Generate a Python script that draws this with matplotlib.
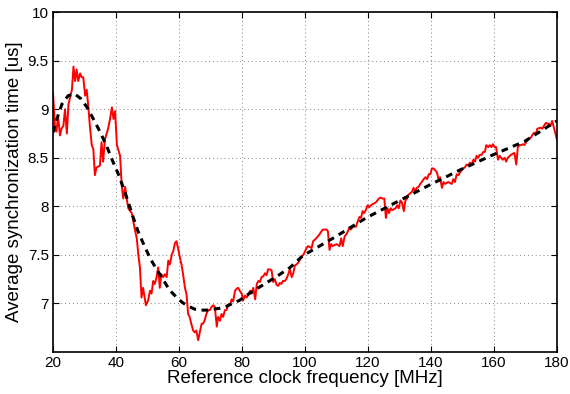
import matplotlib
matplotlib.use("Agg")
import matplotlib.pyplot as plt

# measured curve (red)
freq = [20.0, 20.7, 21.1, 21.6, 22.2, 22.7, 23.3, 23.8, 24.4, 24.9, 25.4, 26.0, 26.5,
        27.0, 27.5, 28.0, 28.6, 29.1, 29.6, 30.2, 30.7, 31.2, 31.7, 32.3, 32.8, 33.3, 33.8, 34.9,
        35.4, 35.9, 36.5, 37.5, 38.1, 38.7, 39.2, 39.7, 40.3, 41.3, 41.8, 42.3, 42.9, 43.4, 43.9,
        45.0, 46.0, 46.6, 47.1, 47.6, 48.1, 48.6, 49.5, 50.2, 50.8, 51.3, 51.8, 52.3, 52.9, 53.4,
        53.9, 54.4, 55.0, 55.5, 56.1, 56.6, 57.1, 57.7, 58.2, 58.7, 59.2, 59.7, 60.3, 60.8, 61.3,
        61.9, 62.4, 62.9, 63.4, 63.9, 64.5, 65.0, 65.5, 66.1, 66.6, 67.2, 67.6, 68.1, 68.7, 69.2,
        69.8, 70.3, 70.9, 71.4, 72.0, 72.4, 73.0, 73.5, 74.0, 74.6, 75.1, 75.7, 76.2, 76.7, 77.2,
        77.8, 78.3, 78.8, 79.3, 79.9, 80.4, 80.9, 81.5, 82.1, 82.6, 83.1, 83.6, 84.2, 84.7, 85.2,
        85.7, 86.2, 86.8, 87.3, 87.8, 88.3, 88.9, 89.4, 89.9, 90.4, 91.0, 91.5, 92.0, 92.5, 93.0,
        93.6, 94.1, 94.7, 95.2, 95.8, 96.3, 96.8, 97.3, 97.9, 98.4, 98.9, 99.5, 100.5, 101.0, 102.1,
        102.6, 103.6, 104.6, 105.2, 105.7, 106.9, 107.3, 107.8, 108.3, 108.8, 110.0, 111.0, 111.5, 112.0, 112.6,
        113.1, 113.6, 114.1, 114.6, 115.2, 116.2, 116.7, 117.3, 117.8, 118.3, 118.8, 119.3, 119.9, 120.4, 120.9,
        121.4, 122.5, 123.5, 124.0, 124.5, 125.2, 125.7, 126.2, 126.7, 127.2, 127.7, 128.8, 129.3, 129.8, 130.3,
        130.8, 131.4, 131.9, 132.4, 132.9, 134.0, 134.5, 135.0, 135.5, 136.1, 136.6, 137.1, 137.7, 138.3, 138.8,
        139.3, 139.8, 140.3, 140.8, 141.4, 141.9, 142.4, 142.9, 143.5, 144.0, 144.5, 145.5, 146.6, 147.1, 147.6,
        148.2, 148.7, 149.7, 150.2, 150.8, 151.3, 151.8, 152.4, 152.9, 153.5, 154.0, 154.5, 155.0, 155.5, 156.1,
        156.6, 157.1, 157.6, 158.2, 158.7, 159.2, 159.7, 160.2, 160.7, 161.3, 161.8, 162.3, 162.8, 163.4, 163.9,
        164.4, 165.4, 166.5, 167.1, 167.6, 168.1, 168.6, 169.2, 169.7, 170.2, 170.7, 171.3, 171.8, 172.3, 172.8,
        173.3, 173.8, 174.9, 175.4, 175.9, 176.5, 177.0, 177.5, 178.0, 178.5, 180.0]
sync_time = [9.17, 8.78, 8.77, 8.93, 8.73, 8.80, 8.83, 9.00, 8.75, 9.05, 9.12, 9.20, 9.44,
             9.29, 9.41, 9.29, 9.37, 9.33, 9.33, 9.14, 9.20, 9.03, 8.83, 8.63, 8.59, 8.32, 8.40, 8.42,
             8.66, 8.46, 8.69, 8.80, 8.90, 9.02, 8.90, 8.98, 8.63, 8.52, 8.22, 8.08, 8.20, 8.08, 7.98,
             7.93, 7.76, 7.67, 7.50, 7.37, 7.06, 7.16, 6.98, 7.03, 7.13, 7.10, 7.23, 7.20, 7.27, 7.37,
             7.16, 7.30, 7.27, 7.30, 7.27, 7.44, 7.40, 7.50, 7.54, 7.62, 7.64, 7.57, 7.47, 7.40, 7.30,
             7.16, 7.09, 6.89, 6.86, 6.79, 6.72, 6.70, 6.72, 6.62, 6.70, 6.79, 6.79, 6.82, 6.89, 6.93,
             6.93, 6.96, 6.98, 6.96, 6.76, 6.86, 6.82, 6.89, 6.86, 6.93, 6.93, 6.99, 6.98, 7.04, 7.02,
             7.13, 7.15, 7.16, 7.13, 7.10, 7.03, 7.08, 7.06, 7.10, 7.13, 7.10, 7.16, 7.04, 7.20, 7.23,
             7.22, 7.27, 7.28, 7.31, 7.29, 7.35, 7.35, 7.34, 7.22, 7.25, 7.19, 7.18, 7.21, 7.20, 7.23,
             7.23, 7.25, 7.30, 7.35, 7.27, 7.31, 7.39, 7.40, 7.42, 7.45, 7.48, 7.50, 7.57, 7.59, 7.57,
             7.64, 7.67, 7.71, 7.74, 7.76, 7.76, 7.74, 7.55, 7.61, 7.59, 7.61, 7.59, 7.67, 7.59, 7.69,
             7.71, 7.74, 7.78, 7.76, 7.79, 7.79, 7.84, 7.89, 7.88, 7.95, 7.93, 7.96, 8.01, 7.99, 8.01,
             8.02, 8.04, 8.08, 8.09, 8.08, 8.08, 7.88, 7.98, 7.93, 7.98, 7.96, 7.98, 8.01, 7.98, 8.06,
             8.04, 7.95, 8.06, 8.08, 8.12, 8.15, 8.19, 8.15, 8.19, 8.20, 8.23, 8.25, 8.28, 8.30, 8.28,
             8.33, 8.33, 8.39, 8.39, 8.37, 8.35, 8.28, 8.30, 8.19, 8.25, 8.23, 8.25, 8.23, 8.28, 8.25,
             8.33, 8.32, 8.37, 8.39, 8.40, 8.43, 8.42, 8.45, 8.43, 8.48, 8.46, 8.52, 8.50, 8.53, 8.53,
             8.56, 8.56, 8.63, 8.61, 8.63, 8.61, 8.64, 8.61, 8.61, 8.48, 8.52, 8.50, 8.48, 8.50, 8.46,
             8.50, 8.53, 8.55, 8.43, 8.61, 8.63, 8.63, 8.64, 8.63, 8.66, 8.68, 8.70, 8.71, 8.74, 8.76,
             8.74, 8.80, 8.81, 8.80, 8.83, 8.86, 8.85, 8.85, 8.83, 8.88, 8.69]

# fitted curve (black dashed)
fit_freq = [20.0, 20.8, 22.8, 24.8, 26.8, 28.8, 30.8, 32.8, 34.9, 36.9, 38.9, 40.9, 42.9, 44.9,
            46.9, 48.9, 50.9, 52.9, 54.9, 56.9, 59.0, 61.0, 63.0, 65.0, 67.0, 69.0, 71.1, 73.1,
            75.1, 77.1, 79.2, 83.2, 87.2, 91.2, 95.3, 99.3, 109.4, 119.4, 129.5, 139.6, 149.6,
            159.7, 169.8, 180.0]
fit_time = [8.76, 8.86, 9.05, 9.14, 9.16, 9.11, 9.02, 8.90, 8.77, 8.63, 8.47, 8.32, 8.14, 7.94,
            7.75, 7.60, 7.46, 7.35, 7.25, 7.14, 7.07, 7.01, 6.97, 6.94, 6.93, 6.93, 6.94, 6.95,
            6.97, 7.00, 7.03, 7.12, 7.20, 7.28, 7.37, 7.49, 7.68, 7.88, 8.05, 8.22, 8.38, 8.53,
            8.67, 8.88]

x_ticks = [20, 40, 60, 80, 100, 120, 140, 160, 180]
y_ticks = [7, 7.5, 8, 8.5, 9, 9.5, 10]
y_labels = ['7', '7.5', '8', '8.5', '9', '9.5', '10']

plt.rcParams['font.family'] = ['Liberation Sans', 'DejaVu Sans']

fig = plt.figure(figsize=(5.7, 3.94), dpi=100)
ax = fig.add_axes([0.093, 0.107, 0.884, 0.862])

ax.plot(freq, sync_time, color='red', lw=1.4)
ax.plot(fit_freq, fit_time, color='black', lw=2.2, ls=(0, (2.2, 1.8)))

ax.set_xlim(20, 180)
ax.set_ylim(6.5, 10)
ax.set_xticks(x_ticks)
ax.set_yticks(y_ticks)
ax.set_yticklabels(y_labels)
ax.grid(True, ls=(0, (1, 3)), color='#808080', lw=0.7)
ax.tick_params(direction='in', top=True, right=True, labelsize=11, length=4, pad=3)
for s in ax.spines.values():
    s.set_linewidth(1.2)

ax.set_xlabel('Reference clock frequency [MHz]', fontsize=13.5, labelpad=0)
ax.set_ylabel('Average synchronization time [us]', fontsize=13.5)
ax.yaxis.set_label_coords(-0.06, 0.5)

fig.savefig('out.png', dpi=100)
